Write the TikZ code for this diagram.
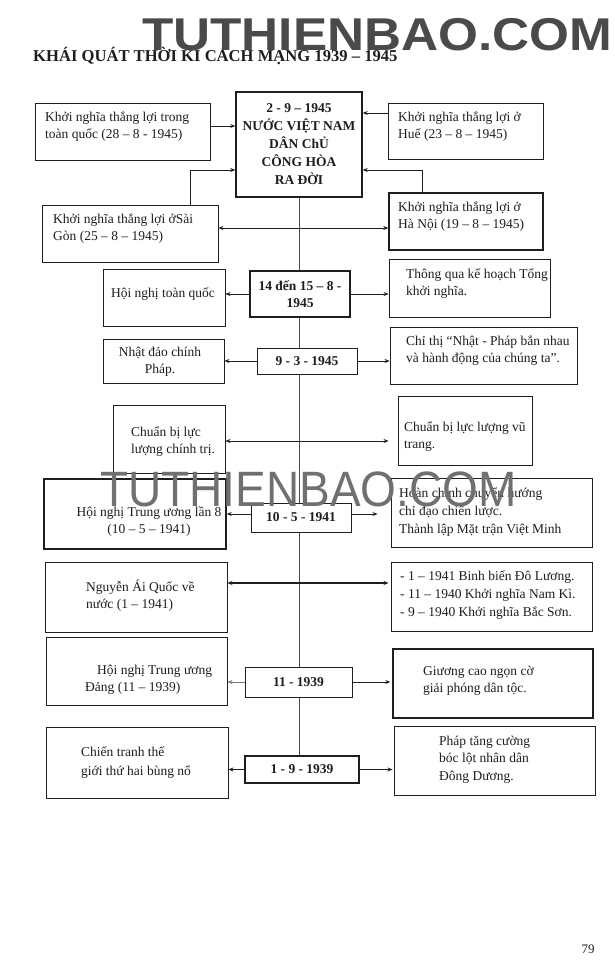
\documentclass[tikz,border=0pt]{standalone}
\usepackage{fontspec}
\setmainfont{Liberation Serif}
\newfontfamily\wmfont{Liberation Sans}
\usetikzlibrary{arrows.meta}
\definecolor{ink}{HTML}{1E1E1E}
\definecolor{wmdark}{HTML}{4A4A4A}
\definecolor{wmlight}{HTML}{707070}
\begin{document}
\begin{tikzpicture}[x=1pt,y=-1pt,
  box/.style={draw=ink, line width=0.9pt, inner sep=0pt, fill=none},
  thickbox/.style={box, line width=1.4pt},
  txt/.style={font=\fontsize{13.5}{17}\selectfont, text=ink, inner sep=0pt, align=left, anchor=west},
  ctxt/.style={txt, align=center, anchor=center},
  datebox/.style={draw=ink, line width=1pt, fill=white, inner sep=0pt, align=center,
    font=\fontsize{13.5}{17}\selectfont\bfseries, text=ink},
  arr/.style={draw=ink, line width=0.8pt, -{Stealth[length=5pt,width=4pt]}},
  darr/.style={draw=ink, line width=0.8pt, {Stealth[length=5pt,width=4pt]}-{Stealth[length=5pt,width=4pt]}},
  vline/.style={draw=ink!80, line width=0.6pt}
]
\useasboundingbox (0,0) rectangle (615,980);
\fill[white] (0,0) rectangle (615,980);

% title and top watermark
\node[font=\fontsize{16.6}{16.6}\selectfont\bfseries, text=ink, inner sep=0pt, anchor=base west] (title) at (33,61) {KHÁI QUÁT THỜI KÌ CÁCH MẠNG 1939 – 1945};
\node[font=\wmfont\bfseries\fontsize{46}{46}\selectfont, text=wmdark, inner sep=0pt, anchor=base west] (wmtop) at (142,50) {\scalebox{1.115}[1]{TUTHIENBAO.COM}};

% main box
\node[thickbox, minimum width=126, minimum height=105] (main) at (299,144.5) {};
\node[font=\fontsize{13.5}{18}\selectfont\bfseries, text=ink, align=center, inner sep=0pt] (maint) at (299,144) {2 - 9 – 1945\\NƯỚC VIỆT NAM\\DÂN ChỦ\\CÔNG HÒA\\RA ĐỜI};

% top boxes
\node[box, minimum width=175, minimum height=57] (b1) at (122.5,131.5) {};
\node[txt] (b1t) at (45,126.5) {Khởi nghĩa thắng lợi trong\\toàn quốc (28 – 8 - 1945)};
\node[box, minimum width=155, minimum height=56] (b2) at (465.5,131) {};
\node[txt] (b2t) at (398,126.5) {Khởi nghĩa thắng lợi ở\\Huế (23 – 8 – 1945)};
\node[box, minimum width=176, minimum height=57] (b3) at (130,233.5) {};
\node[txt] (b3t) at (53,228.5) {Khởi nghĩa thắng lợi ởSài\\Gòn (25 – 8 – 1945)};
\node[thickbox, minimum width=154, minimum height=57] (b4) at (466,221.5) {};
\node[txt] (b4t) at (398,217) {Khởi nghĩa thắng lợi ở\\Hà Nội (19 – 8 – 1945)};

% vertical time line
\coordinate (vend) at (299,756);
\draw[vline] (main.south) -- (main.south |- vend);

% date boxes
\node[datebox, line width=1.4pt, minimum width=100, minimum height=46] (dA) at (300,294) {14 đến 15 – 8 -\\1945};
\node[datebox, minimum width=100, minimum height=26] (dB) at (307,361) {9 - 3 - 1945};
\node[datebox, minimum width=100, minimum height=29] (dC) at (301,517.5) {10 - 5 - 1941};
\node[datebox, minimum width=107, minimum height=30] (dD) at (298.5,682) {11 - 1939};
\node[datebox, line width=1.2pt, minimum width=114, minimum height=27] (dE) at (302,769.5) {1 - 9 - 1939};

% row A
\node[box, minimum width=122, minimum height=57] (lA) at (164,297.5) {};
\node[ctxt] (lAt) at (163,294) {Hội nghị toàn quốc};
\node[box, minimum width=161, minimum height=58] (rA) at (469.5,288) {};
\node[txt] (rAt) at (406,283.5) {Thông qua kế hoạch Tổng\\khởi nghĩa.};

% row B
\node[box, minimum width=121, minimum height=44] (lB) at (163.5,361) {};
\node[ctxt] (lBt) at (160,362) {Nhật đảo chính\\Pháp.};
\node[box, minimum width=187, minimum height=57] (rB) at (483.5,355.5) {};
\node[txt] (rBt) at (406,351) {Chỉ thị “Nhật - Pháp bắn nhau\\và hành động của chúng ta”.};

% row CB
\node[box, minimum width=112, minimum height=68] (lC) at (169,439) {};
\node[txt] (lCt) at (131,442) {Chuẩn bị lực\\lượng chính trị.};
\node[box, minimum width=134, minimum height=69] (rC) at (465,430.5) {};
\node[txt] (rCt) at (404,437) {Chuẩn bị lực lượng vũ\\trang.};

% row 10-5-1941
\node[thickbox, minimum width=182, minimum height=70] (lD) at (135,514) {};
\node[ctxt] (lDt) at (149,521.5) {Hội nghị Trung ương lần 8\\(10 – 5 – 1941)};
\node[box, minimum width=201, minimum height=69] (rD) at (491.5,512.5) {};
\node[txt, font=\fontsize{13.5}{18}\selectfont] (rDt) at (399,512) {Hoàn chỉnh chuyển hướng\\chỉ đạo chiến lược.\\Thành lập Mặt trận Việt Minh};

% row NAQ
\node[box, minimum width=182, minimum height=70] (lE) at (136,597) {};
\node[txt] (lEt) at (86,595.5) {Nguyễn Ái Quốc về\\nước (1 – 1941)};
\node[box, minimum width=201, minimum height=69] (rE) at (491.5,596.5) {};
\node[txt, font=\fontsize{13.5}{18}\selectfont] (rEt) at (400,595) {- 1 – 1941 Binh biến Đô Lương.\\- 11 – 1940 Khởi nghĩa Nam Kì.\\- 9 – 1940 Khởi nghĩa Bắc Sơn.};

% row 11-1939
\node[box, minimum width=181, minimum height=68] (lF) at (136.5,671) {};
\node[txt, font=\fontsize{13.5}{16.5}\selectfont] (lFt) at (85,680) {\hspace*{12pt}Hội nghị Trung ương\\Đảng (11 – 1939)};
\node[thickbox, minimum width=200, minimum height=69] (rF) at (493,683.5) {};
\node[txt] (rFt) at (423,681) {Giương cao ngọn cờ\\giải phóng dân tộc.};

% row 1-9-1939
\node[box, minimum width=182, minimum height=71] (lG) at (137,762.5) {};
\node[txt, font=\fontsize{13.5}{19}\selectfont] (lGt) at (81,762.5) {Chiến tranh thế\\giới thứ hai bùng nổ};
\node[box, minimum width=201, minimum height=69] (rG) at (494.5,760.5) {};
\node[txt, font=\fontsize{13.5}{17.5}\selectfont] (rGt) at (439,759.5) {Pháp tăng cường\\bóc lột nhân dân\\Đông Dương.};

% connectors, top
\draw[arr] ([yshift=5.5]b1.east) -- ([yshift=5.5]b1.east -| main.west);
\draw[arr] ([yshift=18]b2.west) -- ([yshift=18]b2.west -| main.east);
\draw[arr, line width=0.6pt] ([xshift=60]b3.north) |- ([yshift=-25.5]main.west);
\draw[arr, line width=0.6pt] ([xshift=-44]b4.north) |- ([yshift=-25.5]main.east);
\draw[darr, line width=0.6pt] ([yshift=5.5]b3.east) -- ([yshift=5.5]b3.east -| b4.west);

% connectors, rows
\draw[arr, line width=1pt] (dA.west) -- (dA.west -| lA.east);
\draw[arr, line width=1pt] (dA.east) -- (dA.east -| rA.west);
\draw[arr, line width=0.6pt] (dB.west) -- (dB.west -| lB.east);
\draw[arr, line width=0.6pt] (dB.east) -- (dB.east -| rB.west);
\draw[darr, line width=0.6pt, shorten >=9pt] ([yshift=-2]lC.east) -- ([yshift=-2]lC.east -| rC.west);
\draw[arr] ([yshift=3.5]dC.west) -- ([yshift=3.5]dC.west -| lD.east);
\draw[arr, shorten >=13pt] ([yshift=3.5]dC.east) -- ([yshift=3.5]dC.east -| rD.west);
\draw[darr, line width=1.1pt, shorten >=2pt] ([yshift=14]lE.east) -- ([yshift=14]lE.east -| rE.west);
\draw[arr, line width=0.5pt, draw=ink!60] (dD.west) -- (dD.west -| lF.east);
\draw[arr, line width=1pt, shorten >=2pt] (dD.east) -- (dD.east -| rF.west);
\draw[arr, line width=1.6pt] (dE.west) -- (dE.west -| lG.east);
\draw[arr, line width=1pt, shorten >=1pt] (dE.east) -- (dE.east -| rG.west);

% page number
\node[font=\fontsize{13}{13}\selectfont, text=ink, inner sep=0pt, anchor=base] (pg) at (588,953) {79};

% middle watermark
\node[font=\wmfont\fontsize{46}{46}\selectfont, text=wmlight, inner sep=0pt, anchor=base west] (wmmid) at (100,506) {\scalebox{1}[1.08]{TUTHIENBAO.COM}};
\end{tikzpicture}
\end{document}
